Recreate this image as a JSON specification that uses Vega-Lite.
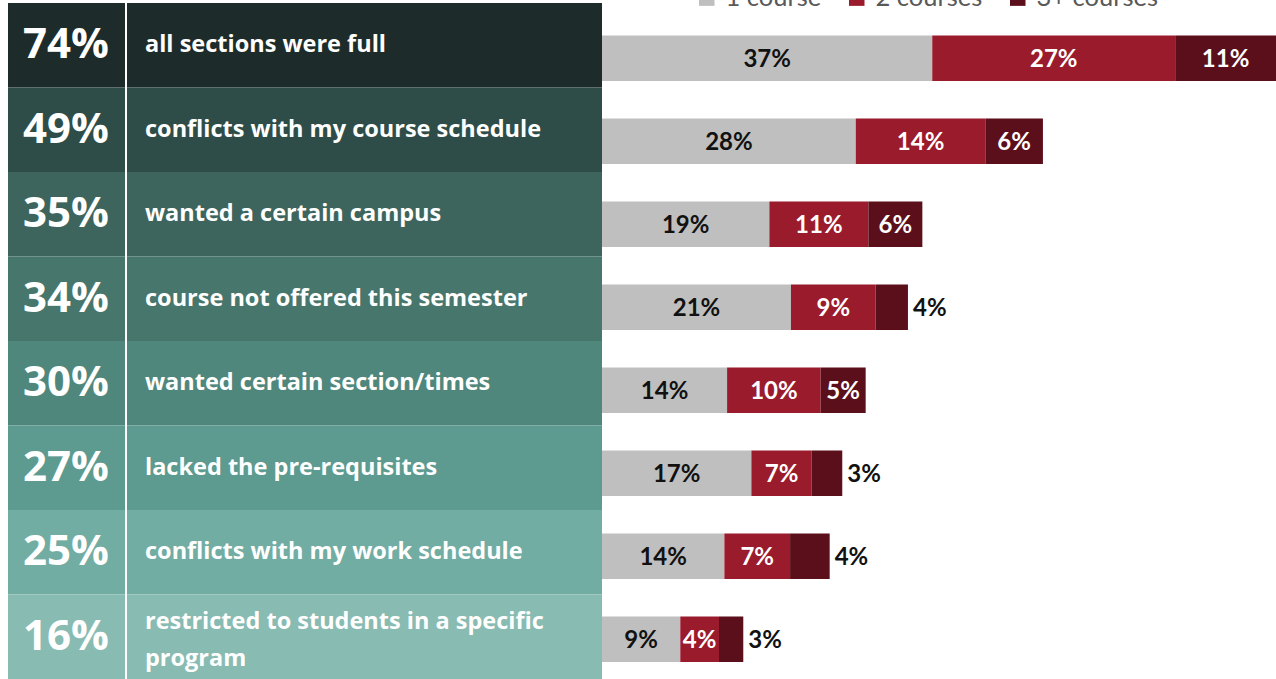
{
  "$schema": "https://vega.github.io/schema/vega-lite/v6.json",
  "width": 1276,
  "height": 679,
  "autosize": {"type": "none"},
  "padding": 0,
  "background": "white",
  "config": {"view": {"stroke": null}},
  "datasets": {
    "reasons": [
      {"reason": "all sections were full", "total": 74},
      {"reason": "conflicts with my course schedule", "total": 49},
      {"reason": "wanted a certain campus", "total": 35},
      {"reason": "course not offered this semester", "total": 34},
      {"reason": "wanted certain section/times", "total": 30},
      {"reason": "lacked the pre-requisites", "total": 27},
      {"reason": "conflicts with my work schedule", "total": 25},
      {"reason": "restricted to students in a specific\nprogram", "total": 16}
    ],
    "segments": [
      {"reason": "all sections were full", "category": "1 course", "value": 36.7},
      {"reason": "all sections were full", "category": "2 courses", "value": 27.0},
      {"reason": "all sections were full", "category": "3+ courses", "value": 11.2},
      {"reason": "conflicts with my course schedule", "category": "1 course", "value": 28.2},
      {"reason": "conflicts with my course schedule", "category": "2 courses", "value": 14.4},
      {"reason": "conflicts with my course schedule", "category": "3+ courses", "value": 6.4},
      {"reason": "wanted a certain campus", "category": "1 course", "value": 18.6},
      {"reason": "wanted a certain campus", "category": "2 courses", "value": 11.0},
      {"reason": "wanted a certain campus", "category": "3+ courses", "value": 6.0},
      {"reason": "course not offered this semester", "category": "1 course", "value": 21.0},
      {"reason": "course not offered this semester", "category": "2 courses", "value": 9.4},
      {"reason": "course not offered this semester", "category": "3+ courses", "value": 3.6},
      {"reason": "wanted certain section/times", "category": "1 course", "value": 13.9},
      {"reason": "wanted certain section/times", "category": "2 courses", "value": 10.4},
      {"reason": "wanted certain section/times", "category": "3+ courses", "value": 5.0},
      {"reason": "lacked the pre-requisites", "category": "1 course", "value": 16.6},
      {"reason": "lacked the pre-requisites", "category": "2 courses", "value": 6.7},
      {"reason": "lacked the pre-requisites", "category": "3+ courses", "value": 3.4},
      {"reason": "conflicts with my work schedule", "category": "1 course", "value": 13.6},
      {"reason": "conflicts with my work schedule", "category": "2 courses", "value": 7.3},
      {"reason": "conflicts with my work schedule", "category": "3+ courses", "value": 4.4},
      {"reason": "restricted to students in a specific\nprogram", "category": "1 course", "value": 8.7},
      {"reason": "restricted to students in a specific\nprogram", "category": "2 courses", "value": 4.3},
      {"reason": "restricted to students in a specific\nprogram", "category": "3+ courses", "value": 2.7}
    ]
  },
  "layer": [
    {
      "data": {"name": "reasons"},
      "transform": [{"calculate": "datum.total + '%'", "as": "totalLabel"}],
      "layer": [
        {
          "mark": {"type": "rect"},
          "encoding": {
            "y": {"field": "reason", "type": "nominal", "axis": null,
              "scale": {"domain": ["all sections were full", "conflicts with my course schedule", "wanted a certain campus", "course not offered this semester", "wanted certain section/times", "lacked the pre-requisites", "conflicts with my work schedule", "restricted to students in a specific\nprogram"],
                "range": [3, 679], "paddingInner": 0, "paddingOuter": 0}},
            "x": {"datum": 8, "type": "quantitative", "axis": null, "scale": {"domain": [0, 1276], "nice": false, "zero": false}},
            "x2": {"datum": 602},
            "color": {"field": "reason", "type": "nominal", "legend": null,
              "scale": {"domain": ["all sections were full", "conflicts with my course schedule", "wanted a certain campus", "course not offered this semester", "wanted certain section/times", "lacked the pre-requisites", "conflicts with my work schedule", "restricted to students in a specific\nprogram"],
                "range": ["#1d2c2a", "#2e4d48", "#3d655e", "#47766d", "#50877c", "#5d9a8f", "#72ada3", "#88bbb2"]}}
          }
        },
        {
          "mark": {"type": "rule", "color": "white", "strokeWidth": 2},
          "encoding": {"x": {"datum": 126, "type": "quantitative"}}
        },
        {
          "mark": {"type": "text", "font": "Open Sans", "fontWeight": "bold", "fontSize": 42, "color": "white", "align": "center", "baseline": "middle"},
          "encoding": {
            "y": {"field": "reason", "type": "nominal"},
            "x": {"datum": 66, "type": "quantitative"},
            "text": {"field": "totalLabel"}
          }
        },
        {
          "transform": [{"filter": "indexof(datum.reason, '\\n') < 0"}],
          "mark": {"type": "text", "font": "Open Sans", "fontWeight": "bold", "fontSize": 23.5, "color": "white", "align": "left", "baseline": "middle"},
          "encoding": {
            "y": {"field": "reason", "type": "nominal"},
            "x": {"datum": 145, "type": "quantitative"},
            "text": {"field": "reason"}
          }
        },
        {
          "transform": [{"filter": "indexof(datum.reason, '\\n') >= 0"}],
          "mark": {"type": "text", "font": "Open Sans", "fontWeight": "bold", "fontSize": 23.5, "color": "white", "align": "left", "baseline": "middle", "lineBreak": "\n", "lineHeight": 37, "dy": -15},
          "encoding": {
            "y": {"field": "reason", "type": "nominal"},
            "x": {"datum": 145, "type": "quantitative"},
            "text": {"field": "reason"}
          }
        }
      ]
    },
    {
      "data": {"name": "segments"},
      "transform": [
        {"stack": "value", "groupby": ["reason"], "sort": [{"field": "category", "order": "ascending"}], "as": ["x0", "x1"]},
        {"calculate": "(datum.x0 + datum.x1) / 2", "as": "mid"},
        {"calculate": "format(datum.value, '.0f') + '%'", "as": "label"}
      ],
      "layer": [
        {
          "mark": {"type": "bar"},
          "encoding": {
            "y": {"field": "reason", "type": "nominal", "axis": null,
              "scale": {"domain": ["all sections were full", "conflicts with my course schedule", "wanted a certain campus", "course not offered this semester", "wanted certain section/times", "lacked the pre-requisites", "conflicts with my work schedule", "restricted to students in a specific\nprogram"],
                "range": [16.7, 680.7], "paddingInner": 0.452, "paddingOuter": 0.226}},
            "x": {"field": "x0", "type": "quantitative", "axis": null, "scale": {"domain": [-66.9, 74.9], "nice": false, "zero": false}},
            "x2": {"field": "x1"},
            "color": {"field": "category", "type": "nominal",
              "scale": {"domain": ["1 course", "2 courses", "3+ courses"], "range": ["#bfbfbf", "#9a1b2c", "#5b0f1b"]},
              "legend": {"orient": "none", "legendX": 694, "legendY": -15, "direction": "horizontal", "title": null,
                "symbolType": "square", "symbolSize": 240, "symbolStrokeWidth": 0,
                "labelFont": "Lato", "labelFontSize": 25.5, "labelColor": "#595959",
                "columnPadding": 22, "labelOffset": 6, "padding": 0, "labelLimit": 0}}
          }
        },
        {
          "transform": [{"filter": "datum.category != '3+ courses' || datum.value >= 5"}],
          "mark": {"type": "text", "font": "Lato", "fontWeight": "bold", "fontSize": 24, "align": "center", "baseline": "middle", "dy": 2},
          "encoding": {
            "y": {"field": "reason", "type": "nominal"},
            "x": {"field": "mid", "type": "quantitative"},
            "text": {"field": "label"},
            "color": {"condition": {"test": "datum.category == '1 course'", "value": "#111111"}, "value": "white"}
          }
        },
        {
          "transform": [{"filter": "datum.category == '3+ courses' && datum.value < 5"}],
          "mark": {"type": "text", "font": "Lato", "fontWeight": "bold", "fontSize": 24, "align": "left", "baseline": "middle", "dx": 5, "dy": 2, "color": "#111111"},
          "encoding": {
            "y": {"field": "reason", "type": "nominal"},
            "x": {"field": "x1", "type": "quantitative"},
            "text": {"field": "label"}
          }
        }
      ]
    }
  ],
  "resolve": {"scale": {"x": "independent", "y": "independent", "color": "independent"}}
}
